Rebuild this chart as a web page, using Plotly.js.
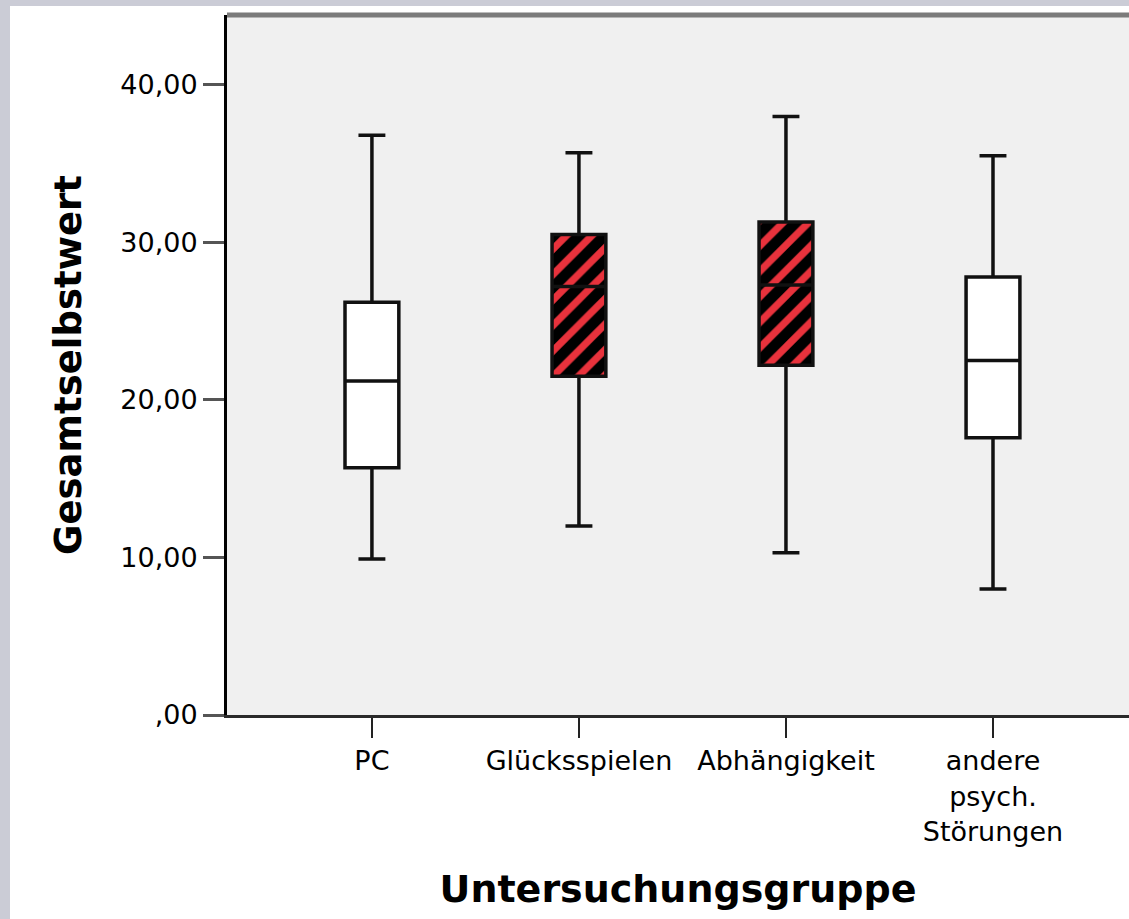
<!DOCTYPE html>
<html>
<head>
<meta charset="utf-8">
<script src="https://cdn.plot.ly/plotly-3.0.1.min.js"></script>
<style>
  html, body { margin: 0; padding: 0; background: #cbccd6; width: 1129px; height: 919px; overflow: hidden; }
  #chart { position: absolute; left: 10px; top: 6px; width: 1119px; height: 913px; background: #ffffff; }
</style>
</head>
<body>
<div id="chart"></div>
<script>
// Data
const categories = ['PC', 'Glücksspielen', 'Abhängigkeit', 'andere<br>psych.<br>Störungen'];
const lowerWhisker = [9.9, 12.0, 10.3, 8.0];
const q1Values     = [15.7, 21.5, 22.2, 17.6];
const medianValues = [21.2, 27.2, 27.3, 22.5];
const q3Values     = [26.2, 30.5, 31.3, 27.8];
const upperWhisker = [36.8, 35.7, 38.0, 35.5];
const hatched      = [false, true, true, false];
const yTickVals    = [0, 10, 20, 30, 40];
const yTickText    = [',00', '10,00', '20,00', '30,00', '40,00'];

const plainIdx = categories.map((c, i) => i).filter(i => !hatched[i]);
const hatchIdx = categories.map((c, i) => i).filter(i => hatched[i]);
const sel = (arr, idx) => idx.map(i => arr[i]);

const boxWidth = 0.26;
const lineSpec = { color: '#111111', width: 3.5 };
const FONT = 'DejaVu Sans, Arial, sans-serif';

const hatchBars = {
  type: 'bar',
  x: sel(categories, hatchIdx),
  y: hatchIdx.map(i => q3Values[i] - q1Values[i]),
  base: sel(q1Values, hatchIdx),
  width: boxWidth,
  marker: {
    color: '#000000',
    line: { width: 0 },
    pattern: { shape: '/', fgcolor: '#e8323c', fgopacity: 1, bgcolor: '#000000', size: 18, solidity: 0.4, fillmode: 'replace' }
  },
  hoverinfo: 'skip',
  showlegend: false
};

function boxTrace(idx, fill) {
  return {
    type: 'box',
    x: sel(categories, idx),
    q1: sel(q1Values, idx),
    median: sel(medianValues, idx),
    q3: sel(q3Values, idx),
    lowerfence: sel(lowerWhisker, idx),
    upperfence: sel(upperWhisker, idx),
    boxpoints: false,
    width: boxWidth,
    whiskerwidth: 0.5,
    fillcolor: fill,
    line: lineSpec,
    hoverinfo: 'skip',
    showlegend: false
  };
}

const layout = {
  width: 1119,
  height: 913,
  margin: { l: 217, r: 0, t: 9, b: 204, pad: 0 },
  paper_bgcolor: '#ffffff',
  plot_bgcolor: '#f0f0f0',
  boxmode: 'overlay',
  barmode: 'overlay',
  showlegend: false,
  font: { family: FONT, color: '#000000' },
  xaxis: {
    type: 'category',
    categoryorder: 'array',
    categoryarray: categories,
    range: [-0.70, 3.657],
    showgrid: false,
    zeroline: false,
    showline: true,
    linecolor: '#2a2a2a',
    linewidth: 3,
    ticks: 'outside',
    ticklen: 20,
    tickwidth: 2,
    tickcolor: '#222222',
    tickfont: { family: FONT, size: 27, color: '#000000' },
    title: { text: 'Untersuchungsgruppe', font: { family: FONT, size: 38, weight: 'bold', color: '#000000' }, standoff: 30 },
    fixedrange: true
  },
  yaxis: {
    range: [0, 44.44],
    tickvals: yTickVals,
    ticktext: yTickText,
    showgrid: false,
    zeroline: false,
    showline: true,
    linecolor: '#000000',
    linewidth: 3,
    ticks: 'outside',
    ticklen: 21,
    tickwidth: 3,
    tickcolor: '#555555',
    tickfont: { family: FONT, size: 27, color: '#000000' },
    title: { text: 'Gesamtselbstwert', font: { family: FONT, size: 37, weight: 'bold', color: '#000000' }, standoff: 28 },
    fixedrange: true
  },
  shapes: [
    { type: 'line', xref: 'paper', yref: 'paper', x0: 0, x1: 1, y0: 1, y1: 1, line: { color: '#7b7b7b', width: 5 } }
  ]
};

Plotly.newPlot('chart', [hatchBars, boxTrace(plainIdx, '#ffffff'), boxTrace(hatchIdx, 'rgba(0,0,0,0)')], layout, { staticPlot: true, displayModeBar: false });
</script>
</body>
</html>
